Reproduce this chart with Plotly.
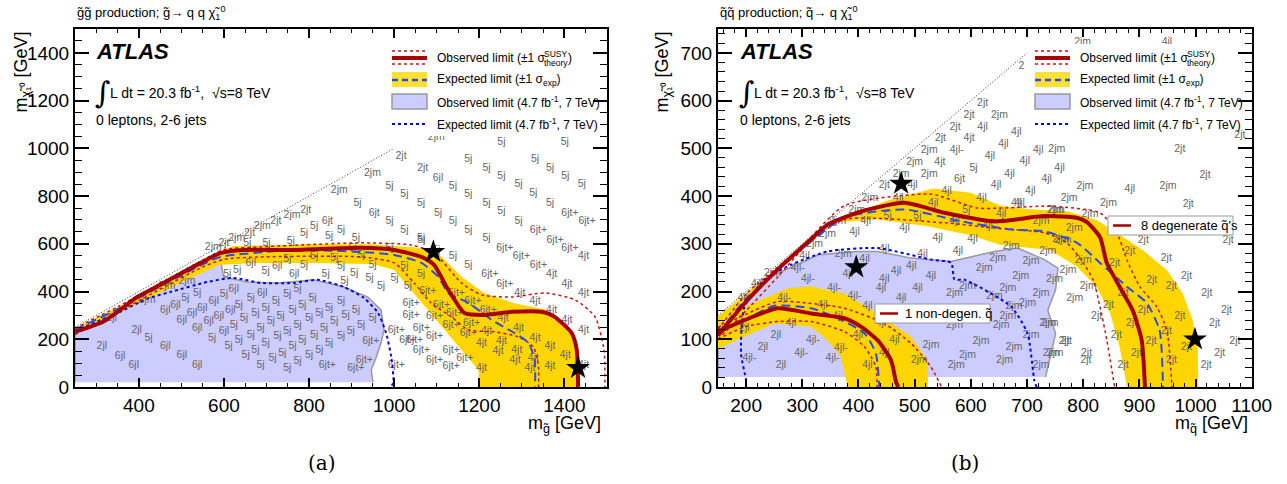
import plotly.graph_objects as go

W, H = 1287, 484
FONT = "Liberation Sans, Arial, sans-serif"

# ================= panel (a): gluino pair production =================
A_DIAG_X = [250, 1000]
A_DIAG_Y = [250, 1000]

A_7OBS_X = [250, 250, 356, 450, 561, 592, 599, 655, 726, 811, 882, 938, 969, 976, 969, 958, 946, 950, 950]
A_7OBS_Y = [20, 239, 335, 419, 520, 532, 461, 440, 436, 449, 419, 377, 323, 239, 184, 126, 71, 21, 20]

A_7EXP_X = [250, 350, 420, 474, 561, 623, 686, 764, 821, 882, 929, 962, 981, 993, 998, 990]
A_7EXP_Y = [236, 310, 370, 398, 440, 457, 436, 436, 449, 419, 373, 310, 226, 126, 17, 0]

A_BAND_X = [250, 350, 450, 550, 580, 620, 800, 950, 1050, 1100, 1160, 1210, 1280, 1355, 1400, 1425, 1435,
            1200, 1198, 1158, 1118, 1080, 1040, 1000, 950, 800, 686, 590, 500, 400, 300, 250]
A_BAND_Y = [247, 333, 428, 522, 558, 590, 598, 598, 585, 565, 460, 395, 352, 325, 270, 185, 0,
            0, 71, 155, 239, 323, 407, 490, 515, 520, 520, 512, 438, 350, 268, 222]

A_EXP_X = [250, 350, 450, 550, 592, 764, 922, 1000, 1064, 1104, 1127, 1175, 1229, 1283, 1316, 1330, 1331]
A_EXP_Y = [240, 326, 421, 514, 545, 574, 566, 553, 520, 461, 394, 352, 281, 226, 184, 113, 0]

A_OBS_X = [250, 316, 356, 396, 450, 545, 592, 646, 764, 922, 1000, 1064, 1094, 1123, 1142, 1165, 1212,
           1276, 1347, 1377, 1417, 1429, 1432]
A_OBS_Y = [231, 273, 323, 377, 428, 520, 561, 574, 574, 583, 574, 545, 511, 419, 365, 310, 302,
           315, 315, 294, 226, 155, 0]

A_OBS_UP_X = [250, 350, 450, 550, 600, 686, 922, 1040, 1094, 1158, 1205, 1276, 1354, 1425, 1472, 1493, 1495]
A_OBS_UP_Y = [246, 336, 434, 532, 576, 587, 604, 595, 562, 436, 386, 377, 394, 365, 294, 155, 0]
A_OBS_DN_X = [250, 350, 450, 550, 600, 686, 922, 1000, 1047, 1087, 1134, 1175, 1236, 1292, 1327, 1339, 1339]
A_OBS_DN_Y = [220, 312, 410, 503, 535, 545, 545, 520, 436, 352, 294, 239, 231, 210, 168, 84, 0]

A_STAR_X = [1092, 1432]
A_STAR_Y = [566, 80]

A_LBL = [
    (1016, 966, "2jt"), (1067, 917, "2jt"), (1103, 875, "6jl"), (1138, 840, "5j"),
    (949, 893, "2jm"), (989, 840, "5j"), (1024, 805, "5j"), (1063, 770, "5j"), (1103, 728, "5j"),
    (871, 823, "2jm"), (914, 770, "5j"), (953, 728, "6jt"), (989, 693, "5j"), (1024, 658, "5j"),
    (1063, 623, "5j"), (1099, 574, "5j"), (1138, 546, "5j"), (1174, 511, "5j"),
    (792, 742, "2jt"), (760, 721, "2jm"), (843, 693, "6jt"), (875, 658, "5j"), (910, 623, "5j"),
    (722, 693, "2jt"), (690, 672, "2jm"), (812, 672, "5j"), (847, 630, "5j"),
    (660, 644, "2jt"), (630, 623, "2jm"), (788, 644, "5j"), (757, 610, "5j"),
    (600, 600, "2jt"), (575, 585, "2jm"), (655, 600, "5j"), (700, 600, "5j"),
    (1099, 1044, "2jm"), (1252, 1027, "5j"), (1401, 1027, "5j"),
    (1174, 952, "5j"), (1217, 917, "5j"), (1252, 882, "5j"), (1292, 847, "5j"), (1327, 812, "5j"),
    (1366, 770, "5j"), (1413, 728, "6jt+"), (1453, 693, "6jt+"), (1331, 952, "5j"), (1366, 917, "5j"),
    (1402, 882, "5j"), (1441, 847, "5j"),
    (1174, 805, "5j"), (1217, 770, "5j"), (1252, 735, "5j"), (1292, 693, "5j"), (1339, 658, "6jt+"),
    (1378, 616, "6jt+"), (1413, 581, "6jt+"), (1445, 546, "4jt"),
    (1138, 693, "5j"), (1174, 658, "5j"), (1217, 623, "5j"), (1260, 581, "6jt+"), (1299, 546, "6jt+"),
    (1339, 511, "6jt+"), (1370, 470, "4jt"), (1406, 428, "4jt"), (1445, 393, "4jt"),
    (1064, 616, "5j"), (1225, 470, "6jt+"), (1260, 428, "6jt+"), (1295, 393, "4jt"),
    (1331, 358, "4jt"), (1370, 323, "4jt"), (1406, 281, "4jt"), (1445, 239, "4jt"),
    (1146, 393, "6jt+"), (1185, 358, "6jt+"), (1221, 323, "6jt+"), (1256, 288, "4jt"), (1292, 246, "4jt"),
    (1331, 204, "4jt"), (1366, 169, "4jt"), (1402, 134, "4jt"), (1445, 92, "4jt"),
    (1111, 344, "6jt+"), (1142, 309, "6jt+"), (1182, 267, "6jt+"), (1217, 232, "4jt"), (1252, 190, "4jt"),
    (1288, 155, "4jt"), (1327, 120, "4jt"), (1366, 85, "4jt"),
    (1095, 295, "6jt+"), (1134, 260, "6jt+"), (1174, 225, "6jt+"), (1205, 183, "4jt"), (1244, 148, "4jt"),
    (1284, 113, "4jt"), (1319, 78, "4jt"),
    (1064, 246, "6jt+"), (1095, 211, "6jt+"), (1134, 155, "6jt+"), (1166, 120, "6jt+"), (1205, 78, "4jt"),
    (1032, 197, "6jt+"), (1064, 155, "6jt+"), (1095, 113, "6jt+"), (1134, 85, "6jt+"),
    (1005, 92, "6jt+"), (1005, 239, "6jt+"), (1040, 351, "6jt+"), (1079, 400, "6jt+"),
    (1001, 456, "5j"), (1032, 421, "5j"), (1063, 470, "5j"), (969, 421, "5j"), (942, 456, "5j"),
    (906, 477, "5j"), (883, 441, "5j"), (608, 470, "5j"), (631, 490, "5j"), (663, 519, "6jl"),
    (698, 484, "5j"), (725, 504, "6jl"), (749, 533, "5j"), (765, 470, "6jl"), (788, 511, "5j"),
    (812, 546, "5j"), (839, 470, "5j"), (859, 539, "5j"), (875, 504, "5j"), (902, 581, "5j"),
    (922, 553, "5j"), (949, 511, "5j"), (989, 581, "5j"), (1024, 504, "5j"),
    (513, 442, "2jm"), (466, 421, "2jm"), (419, 365, "2jm"), (336, 288, "2jl"), (395, 239, "2jl"),
    (313, 169, "2jl"), (423, 204, "5j"), (356, 127, "6jl"), (388, 92, "6jl"), (462, 169, "6jl"),
    (501, 134, "6jl"), (537, 92, "6jl"), (462, 323, "6jl"), (486, 344, "6jl"), (509, 372, "5j"),
    (537, 393, "5j"), (501, 281, "6jl"), (525, 309, "6jl"), (549, 330, "6jl"), (576, 358, "6jl"),
    (600, 386, "5j"), (623, 407, "6jl"), (537, 246, "6jl"), (564, 274, "6jl"), (588, 295, "6jl"),
    (615, 323, "6jl"), (635, 344, "5j"), (663, 372, "5j"), (690, 393, "6jl"), (572, 204, "5j"),
    (600, 232, "6jl"), (623, 260, "5j"), (647, 288, "5j"), (674, 309, "5j"), (698, 330, "5j"),
    (722, 358, "5j"), (749, 386, "5j"), (773, 407, "5j"), (611, 169, "5j"), (635, 197, "5j"),
    (663, 218, "5j"), (686, 246, "5j"), (710, 274, "5j"), (733, 295, "5j"), (761, 323, "5j"),
    (784, 344, "5j"), (808, 372, "5j"), (651, 134, "5j"), (674, 155, "5j"), (698, 183, "5j"),
    (726, 211, "5j"), (749, 232, "5j"), (773, 260, "5j"), (800, 288, "5j"), (824, 309, "5j"),
    (847, 330, "5j"), (875, 358, "5j"), (686, 92, "5j"), (714, 120, "5j"), (737, 141, "5j"),
    (761, 169, "5j"), (784, 197, "5j"), (812, 218, "5j"), (835, 246, "5j"), (859, 274, "5j"),
    (886, 302, "5j"), (910, 323, "5j"), (749, 78, "5j"), (773, 106, "5j"), (800, 134, "5j"),
    (824, 155, "5j"), (847, 183, "5j"), (875, 211, "5j"), (898, 232, "5j"), (922, 260, "5j"),
    (949, 288, "5j"), (843, 92, "6jt+"), (910, 78, "6jt+"), (945, 190, "6jt+"), (930, 113, "6jt+"),
    (1040, 300, "6jt+"), (1048, 197, "6jt+"),
]

# ================= panel (b): squark pair production =================
B_DIAG_X = [150, 700]
B_DIAG_Y = [150, 700]

B_7OBS_X = [150, 150, 200, 250, 291, 328, 399, 434, 494, 565, 642, 683, 731, 755, 751, 737, 751, 743, 733, 733]
B_7OBS_Y = [21, 140, 190, 235, 256, 277, 284, 284, 270, 263, 284, 291, 267, 249, 204, 161, 112, 70, 21, 21]

B_7EXP_X = [200, 200, 191, 197, 233, 280, 345, 434, 529, 565, 571, 588, 672, 701, 713, 717]
B_7EXP_Y = [0, 14, 70, 168, 225, 256, 284, 291, 267, 260, 225, 225, 168, 112, 14, 0]

# 8 degenerate squarks
B_BAND8_X = [150, 200, 250, 300, 350, 391, 450, 533, 600, 652, 700, 771, 824, 860, 906, 949, 977, 995, 1004, 1005,
             878, 865, 848, 824, 789, 741, 652, 600, 523, 434, 360, 320, 298, 250, 200, 150]
B_BAND8_Y = [148, 196, 245, 294, 340, 362, 390, 416, 407, 380, 373, 368, 350, 323, 287, 245, 197, 140, 78, 0,
             0, 84, 155, 210, 252, 287, 298, 318, 337, 351, 345, 320, 295, 235, 175, 112]
B_EXP8_X = [150, 200, 250, 300, 375, 482, 583, 672, 731, 789, 830, 878, 913, 936, 942]
B_EXP8_Y = [112, 185, 237, 290, 355, 372, 347, 330, 326, 302, 260, 210, 176, 119, 0]
B_OBS8_X = [150, 197, 256, 316, 345, 405, 482, 553, 642, 731, 790, 806, 830, 842, 865, 888, 904, 910]
B_OBS8_Y = [108, 175, 246, 310, 340, 368, 386, 365, 347, 358, 354, 346, 314, 260, 210, 161, 99, 0]
B_OBS8_UP_X = [150, 200, 250, 300, 375, 529, 612, 731, 764, 830, 860, 878, 901, 931, 949, 958]
B_OBS8_UP_Y = [120, 195, 245, 295, 380, 404, 375, 379, 377, 365, 323, 266, 210, 168, 119, 0]
B_OBS8_DN_X = [150, 200, 256, 310, 375, 553, 642, 731, 771, 800, 818, 830, 842, 856]
B_OBS8_DN_Y = [100, 160, 230, 300, 351, 344, 333, 323, 302, 260, 224, 168, 99, 0]

# 1 non-degenerate squark
B_BAND1_X = [150, 197, 274, 316, 375, 434, 494, 523, 524, 382, 378, 369, 345, 316, 250, 197, 150]
B_BAND1_Y = [140, 168, 207, 211, 196, 154, 105, 56, 0, 0, 14, 63, 98, 126, 133, 105, 80]
B_EXP1_X = [150, 197, 250, 316, 363, 411, 431, 437]
B_EXP1_Y = [112, 140, 170, 165, 144, 112, 70, 0]
B_OBS1_X = [150, 197, 256, 316, 375, 405, 434, 458, 467, 471]
B_OBS1_Y = [116, 140, 165, 154, 144, 126, 98, 56, 10, 0]
B_OBS1_UP_X = [150, 197, 256, 316, 375, 446, 494, 529, 548]
B_OBS1_UP_Y = [125, 151, 179, 175, 165, 133, 91, 42, 0]
B_OBS1_DN_X = [150, 197, 256, 316, 375, 411, 431, 433]
B_OBS1_DN_Y = [100, 126, 137, 137, 116, 84, 42, 0]

B_STAR_X = [476, 396, 999]
B_STAR_Y = [426, 251, 100]

B_LBL = [
    (799, 721, "2jm"), (949, 721, "4jl"), (690, 672, "2"),
    (621, 595, "2jt"), (597, 570, "2jt"), (651, 570, "2jm"), (572, 544, "2jt"), (621, 544, "4jl"),
    (681, 534, "4jl"), (546, 520, "2jt"), (597, 520, "4jt"), (658, 509, "4jl"), (720, 495, "4jl"),
    (526, 495, "2jm"), (575, 495, "4jl-"), (634, 483, "4jl"), (696, 472, "4jl"), (758, 458, "4jl"),
    (500, 471, "2jm"), (545, 471, "4jt"), (605, 458, "5j"), (669, 446, "4jl"), (735, 434, "4jl"),
    (476, 446, "2jm"), (526, 446, "2jm"), (580, 434, "6jt"), (645, 422, "4jl"), (706, 409, "4jl"),
    (446, 422, "2jt"), (496, 422, "4jl"), (775, 395, "2jm"), (420, 395, "2jm"), (471, 395, "4jl"),
    (557, 409, "4jl"), (619, 395, "4jl"), (681, 385, "4jl"), (397, 371, "2jm"), (533, 385, "4jl"),
    (592, 371, "5j"), (752, 371, "2jm"),
    (753, 497, "2jm"), (883, 413, "4jl"), (1017, 444, "2jt"), (972, 497, "2jt"), (1079, 528, "2jt"),
    (654, 361, "4jl"), (725, 347, "2jm"), (784, 333, "2jm"), (363, 347, "2jm"), (413, 347, "4jl"),
    (452, 358, "5j"), (505, 358, "5j"), (571, 347, "4jl"), (630, 337, "4jl"), (760, 309, "2jm"),
    (345, 319, "2jm"), (393, 323, "4jl"), (482, 333, "4jl"), (541, 312, "4jl"), (603, 309, "4jl"),
    (672, 295, "2jm"), (737, 284, "2jm"), (322, 298, "2jm"), (373, 277, "2jm"), (446, 288, "4jl"),
    (514, 277, "4jl"), (577, 284, "4jl"), (648, 270, "2jm"), (707, 263, "2jm"), (304, 274, "4jl"),
    (292, 249, "4jl-"), (411, 267, "4jl"), (494, 253, "4jl"), (467, 242, "4jl"), (624, 249, "2jm"),
    (689, 232, "2jm"), (749, 225, "2jm"), (247, 239, "2jm"), (310, 225, "4jl-"), (381, 235, "4jl"),
    (446, 225, "4jl"), (529, 232, "4jl"), (594, 211, "2jm"), (666, 207, "2jm"), (725, 196, "2jm"),
    (221, 214, "4jl-"), (357, 207, "4jl-"), (440, 207, "4jl"), (505, 207, "4jl"), (571, 196, "2jm"),
    (642, 189, "2jm"), (701, 175, "2jm"), (197, 186, "4jl-"), (268, 186, "4jl-"), (393, 189, "4jl-"),
    (476, 186, "4jl"), (677, 168, "2jm"), (339, 172, "4jl-"), (416, 168, "4jl"), (594, 161, "2jm"),
    (666, 147, "2jm"), (737, 133, "2jm"), (197, 123, "2jl"), (280, 133, "4jl"), (363, 147, "4jl"),
    (440, 133, "4jl"), (571, 130, "2jm"), (654, 130, "2jm"), (707, 109, "2jm"), (766, 95, "2jt"),
    (253, 109, "2jl"), (319, 98, "4jl-"), (399, 109, "4jl"), (464, 98, "4jl"), (529, 88, "2jm"),
    (618, 95, "2jm"), (677, 84, "2jm"), (743, 70, "2jm"), (230, 84, "2jl"), (369, 81, "4jl-"),
    (446, 70, "4jl"), (508, 56, "2jm"), (594, 67, "2jm"), (660, 56, "2jm"), (725, 46, "2jm"),
    (805, 56, "2jt"), (206, 60, "4jl-"), (298, 70, "4jl-"), (262, 46, "2jl"), (354, 60, "4jl-"),
    (416, 46, "4jl"), (574, 46, "2jm"),
    (803, 420, "2jm"), (951, 420, "2jm"), (687, 385, "4jl"), (845, 385, "2jm"), (987, 382, "2jt"),
    (750, 370, "2jm"), (812, 361, "2jm"), (1058, 308, "2jt"), (907, 308, "2jt"), (764, 308, "2jm"),
    (883, 284, "2jt"), (948, 270, "2jt"), (800, 266, "2jm"), (773, 245, "2jm"), (856, 259, "2jt"),
    (922, 224, "2jt"), (984, 231, "2jt"), (809, 210, "2jm"), (871, 196, "2jt"), (957, 210, "2jt"),
    (1020, 196, "2jt"), (1055, 161, "2jt"), (785, 186, "2jm"), (845, 172, "2jt"), (907, 161, "2jt"),
    (972, 147, "2jt"), (1034, 133, "2jt"), (741, 133, "2jm"), (824, 147, "2jt"), (886, 133, "2jt"),
    (948, 116, "2jt"), (1070, 95, "2jt"), (770, 95, "2jt"), (859, 109, "2jt"), (921, 95, "2jt"),
    (984, 84, "2jt"), (1043, 70, "2jt"), (750, 70, "2jm"), (806, 70, "2jt"), (895, 70, "2jt"),
    (957, 56, "2jt"), (1019, 46, "2jt"), (871, 46, "2jt"),
]

# ---------------- styles ----------------
C_OBS = "#a80000"
C_DOT = "#cc1111"
C_EXP = "#2a4fe0"
C_7 = "#0000ff"
C_YEL = "#ffd500"
C_LAV = "#ccccff"
C_EDGE = "#999999"
C_LBL = "#666666"


def px2x(p):
    return p / W


def py2y(p):
    return 1 - p / H


fig = go.Figure()


def poly(x, y, xa, ya, fill, line_color=None, lw=0):
    fig.add_trace(go.Scatter(x=x, y=y, xaxis=xa, yaxis=ya, mode="lines", fill="toself",
                             fillcolor=fill, hoverinfo="skip",
                             line=dict(color=line_color or fill, width=lw)))


def line(x, y, xa, ya, color, width, dash="solid"):
    fig.add_trace(go.Scatter(x=x, y=y, xaxis=xa, yaxis=ya, mode="lines", hoverinfo="skip",
                             line=dict(color=color, width=width, dash=dash, shape="spline", smoothing=0.6)))


def labels(lbl, xa, ya):
    xs, ys, ts = zip(*lbl)
    fig.add_trace(go.Scatter(x=list(xs), y=list(ys), text=list(ts), mode="text", xaxis=xa, yaxis=ya,
                             textfont=dict(family=FONT, size=10.5, color=C_LBL), hoverinfo="skip"))


def stars(x, y, xa, ya):
    fig.add_trace(go.Scatter(x=x, y=y, xaxis=xa, yaxis=ya, mode="markers", hoverinfo="skip",
                             marker=dict(symbol="star", size=18, color="black")))


# panel (a)
poly(A_7OBS_X, A_7OBS_Y, "x", "y", C_LAV, C_EDGE, 1.5)
poly(A_BAND_X, A_BAND_Y, "x", "y", C_YEL)
labels(A_LBL, "x", "y")
line(A_7EXP_X, A_7EXP_Y, "x", "y", C_7, 2, "3px,3px")
line(A_OBS_UP_X, A_OBS_UP_Y, "x", "y", C_DOT, 1.5, "dot")
line(A_OBS_DN_X, A_OBS_DN_Y, "x", "y", C_DOT, 1.5, "dot")
line(A_EXP_X, A_EXP_Y, "x", "y", C_EXP, 2, "9px,5px")
line(A_OBS_X, A_OBS_Y, "x", "y", C_OBS, 4)
line(A_DIAG_X, A_DIAG_Y, "x", "y", "#333333", 1, "1px,2px")
stars(A_STAR_X, A_STAR_Y, "x", "y")

# panel (b)
poly(B_7OBS_X, B_7OBS_Y, "x2", "y2", C_LAV, C_EDGE, 1.5)
poly(B_BAND8_X, B_BAND8_Y, "x2", "y2", C_YEL)
poly(B_BAND1_X, B_BAND1_Y, "x2", "y2", C_YEL)
labels(B_LBL, "x2", "y2")
line(B_7EXP_X, B_7EXP_Y, "x2", "y2", C_7, 2, "3px,3px")
line(B_OBS8_UP_X, B_OBS8_UP_Y, "x2", "y2", C_DOT, 1.5, "dot")
line(B_OBS8_DN_X, B_OBS8_DN_Y, "x2", "y2", C_DOT, 1.5, "dot")
line(B_OBS1_UP_X, B_OBS1_UP_Y, "x2", "y2", C_DOT, 1.5, "dot")
line(B_OBS1_DN_X, B_OBS1_DN_Y, "x2", "y2", C_DOT, 1.5, "dot")
line(B_EXP8_X, B_EXP8_Y, "x2", "y2", C_EXP, 2, "9px,5px")
line(B_EXP1_X, B_EXP1_Y, "x2", "y2", C_EXP, 2, "9px,5px")
line(B_OBS8_X, B_OBS8_Y, "x2", "y2", C_OBS, 4)
line(B_OBS1_X, B_OBS1_Y, "x2", "y2", C_OBS, 4)
line(B_DIAG_X, B_DIAG_Y, "x2", "y2", "#333333", 1, "1px,2px")
stars(B_STAR_X, B_STAR_Y, "x2", "y2")

# ---------------- axes ----------------
YD = [py2y(387), py2y(29)]


def axis(domain, rng, dtick, minor, ticklen, anchor):
    return dict(domain=domain, range=rng, dtick=dtick, tick0=0, anchor=anchor,
                showline=True, linecolor="black", linewidth=2, mirror="allticks",
                ticks="inside", ticklen=ticklen, tickwidth=1.5, tickcolor="black",
                minor=dict(dtick=minor, ticks="inside", ticklen=ticklen // 2, tickwidth=1.2, tickcolor="black"),
                showgrid=False, zeroline=False, automargin=False,
                tickfont=dict(family=FONT, size=19, color="black"))


layout = dict(
    margin=dict(l=0, r=0, t=0, b=0, pad=0), autosize=True,
    paper_bgcolor="white", plot_bgcolor="white", showlegend=False,
    font=dict(family=FONT, color="black"),
    xaxis=axis([px2x(75), px2x(607)], [250, 1500], 200, 50, 9, "y"),
    yaxis=axis(YD, [0, 1500], 200, 50, 14, "x"),
    xaxis2=axis([px2x(718), px2x(1252)], [150, 1100.5], 100, 20, 8, "y2"),
    yaxis2=axis(YD, [0, 750], 100, 20, 14, "x2"),
)
fig.update_layout(**layout)

ann = []
shapes = []


def text(x, y, s, size, xanchor="left", yanchor="middle", family=FONT, angle=0, color="black"):
    ann.append(dict(x=px2x(x), y=py2y(y), xref="paper", yref="paper", text=s, showarrow=False,
                    xanchor=xanchor, yanchor=yanchor, textangle=angle,
                    font=dict(family=family, size=size, color=color)))


for ox, title, xtitle, xend in [
    (0, "g\u0303g\u0303 production; g\u0303\u2192 q q \u03c7\u0303<sub>1</sub><sup>0</sup>", "m<sub>g\u0303</sub> [GeV]", 603),
    (643, "q\u0303q\u0303 production; q\u0303\u2192 q \u03c7\u0303<sub>1</sub><sup>0</sup>", "m<sub>q\u0303</sub> [GeV]", 1250),
]:
    base = 75 if ox == 0 else 718
    text(base, 13, title, 13)
    text(xend, 424, xtitle, 18, xanchor="right")
    text(base - 53 if ox == 0 else base - 55, 30, "m<sub>\u03c7\u0303\u2081\u2070</sub> [GeV]", 18,
         xanchor="center", yanchor="top", angle=-90)
    ab = 94 if ox == 0 else 738
    text(ab, 52, "<b><i>ATLAS</i></b>", 22)
    text(ab - 1, 92, "\u222b", 30, family="DejaVu Serif")
    text(ab + 14, 92, "L dt = 20.3 fb<sup>-1</sup>,  \u221as=8 TeV", 14)
    text(ab, 120, "0 leptons, 2-6 jets", 14)

    # legend
    lx0, lx1, tx = 392 + ox, 427 + ox, 435 + ox
    shapes.append(dict(type="rect", xref="paper", yref="paper", x0=px2x(385 + ox), x1=px2x(592 + ox),
                       y0=py2y(136), y1=py2y(44), fillcolor="white", line=dict(width=0), layer="above"))
    shapes.append(dict(type="line", xref="paper", yref="paper", x0=px2x(lx0), x1=px2x(lx1),
                       y0=py2y(51), y1=py2y(51), line=dict(color=C_DOT, width=1.5, dash="dot")))
    shapes.append(dict(type="line", xref="paper", yref="paper", x0=px2x(lx0), x1=px2x(lx1),
                       y0=py2y(58), y1=py2y(58), line=dict(color=C_OBS, width=4)))
    shapes.append(dict(type="line", xref="paper", yref="paper", x0=px2x(lx0), x1=px2x(lx1),
                       y0=py2y(64), y1=py2y(64), line=dict(color=C_DOT, width=1.5, dash="dot")))
    shapes.append(dict(type="rect", xref="paper", yref="paper", x0=px2x(lx0), x1=px2x(lx1),
                       y0=py2y(87), y1=py2y(72), fillcolor="#ffe033", line=dict(width=0)))
    shapes.append(dict(type="line", xref="paper", yref="paper", x0=px2x(lx0), x1=px2x(lx1),
                       y0=py2y(80), y1=py2y(80), line=dict(color=C_EXP, width=2.5, dash="6px,4px")))
    shapes.append(dict(type="rect", xref="paper", yref="paper", x0=px2x(lx0), x1=px2x(lx1),
                       y0=py2y(109), y1=py2y(94), fillcolor=C_LAV, line=dict(color=C_EDGE, width=1.5)))
    shapes.append(dict(type="line", xref="paper", yref="paper", x0=px2x(lx0), x1=px2x(lx1),
                       y0=py2y(124), y1=py2y(124), line=dict(color=C_7, width=2, dash="3px,3px")))
    text(tx, 58, "Observed limit (\u00b11 \u03c3", 12)
    text(tx + 107, 54, "SUSY", 8.5)
    text(tx + 107, 63, "theory", 8.5)
    text(tx + 131, 58, ")", 12)
    text(tx, 80, "Expected limit (\u00b11 \u03c3<sub>exp</sub>)", 12)
    text(tx, 102, "Observed limit (4.7 fb<sup>-1</sup>, 7 TeV)", 12)
    text(tx, 124, "Expected limit (4.7 fb<sup>-1</sup>, 7 TeV)", 12)

text(322, 463, "(a)", 20, xanchor="center", family="DejaVu Serif")
text(965, 463, "(b)", 20, xanchor="center", family="DejaVu Serif")

# in-plot legend boxes of panel (b)
text(903, 313.5, "1 non-degen. q\u0303", 13)
shapes.append(dict(type="rect", xref="paper", yref="paper", x0=px2x(875), x1=px2x(990),
                   y0=py2y(323), y1=py2y(304), fillcolor="white", line=dict(color="#999999", width=1)))
shapes.append(dict(type="line", xref="paper", yref="paper", x0=px2x(880), x1=px2x(898),
                   y0=py2y(313.5), y1=py2y(313.5), line=dict(color=C_OBS, width=2.5)))
text(1139, 225.5, "8 degenerate q\u0303's", 13)
shapes.append(dict(type="rect", xref="paper", yref="paper", x0=px2x(1108), x1=px2x(1233),
                   y0=py2y(235), y1=py2y(216), fillcolor="white", line=dict(color="#999999", width=1)))
shapes.append(dict(type="line", xref="paper", yref="paper", x0=px2x(1113), x1=px2x(1131),
                   y0=py2y(225.5), y1=py2y(225.5), line=dict(color=C_OBS, width=2.5)))

for s in shapes:
    s.setdefault("layer", "above")
fig.update_layout(annotations=ann, shapes=shapes)

POST = (
    "document.documentElement.style.margin='0';document.documentElement.style.overflow='hidden';"
    "document.body.style.margin='0';document.body.style.padding='0';document.body.style.overflow='hidden';"
    "var gd=document.getElementById('{plot_id}');"
    "Plotly.relayout(gd,{width:window.innerWidth,height:window.innerHeight});"
)

fig.write_html("out.html", default_width="100vw", default_height="100vh", post_script=POST)
